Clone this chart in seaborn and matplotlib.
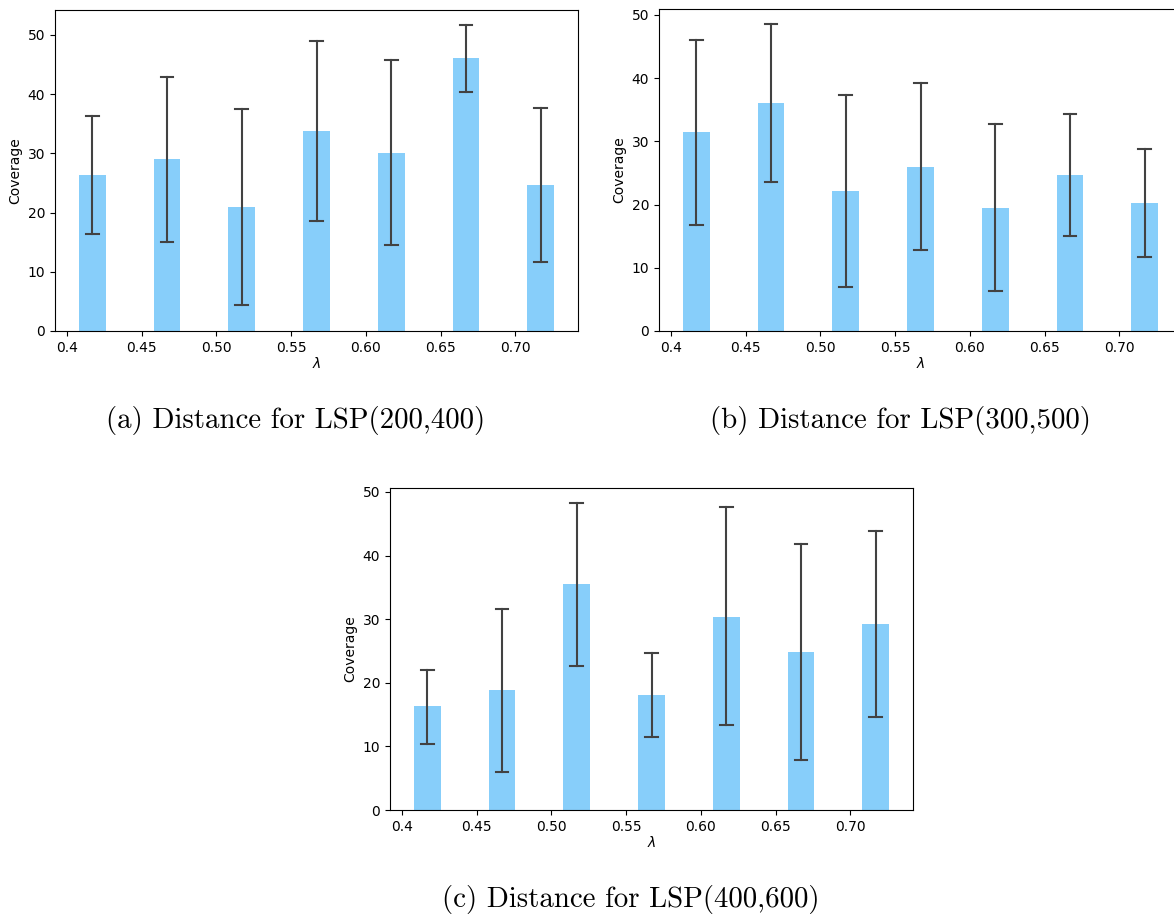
import numpy as np
import pandas as pd
import matplotlib
matplotlib.use("Agg")
import matplotlib.pyplot as plt
import seaborn as sns

# bar centres (lambda) and tick labels
lam = [0.417, 0.467, 0.517, 0.567, 0.617, 0.667, 0.717]
tick_pos = [0.40, 0.45, 0.50, 0.55, 0.60, 0.65, 0.70]
tick_labels = ["0.4", "0.45", "0.50", "0.55", "0.60", "0.65", "0.70"]

# panel (a) LSP(200,400)
a_mean = [26.3, 29.0, 20.9, 33.7, 30.0, 46.0, 24.6]
a_low = [16.4, 15.1, 4.4, 18.6, 14.5, 40.3, 11.6]
a_high = [36.3, 42.9, 37.4, 48.9, 45.7, 51.6, 37.7]

# panel (b) LSP(300,500)
b_mean = [31.4, 36.0, 22.2, 26.0, 19.5, 24.7, 20.3]
b_low = [16.7, 23.6, 6.9, 12.8, 6.3, 15.1, 11.7]
b_high = [46.0, 48.5, 37.4, 39.3, 32.7, 34.3, 28.8]

# panel (c) LSP(400,600)
c_mean = [16.3, 18.8, 35.5, 18.0, 30.4, 24.8, 29.3]
c_low = [10.4, 5.9, 22.6, 11.4, 13.3, 7.8, 14.6]
c_high = [22.0, 31.6, 48.2, 24.6, 47.7, 41.8, 43.9]

captions = ["(a) Distance for LSP(200,400)",
            "(b) Distance for LSP(300,500)",
            "(c) Distance for LSP(400,600)"]

W, H = 1174, 916
fig = plt.figure(figsize=(W / 100, H / 100), dpi=100)


def axes_px(l, t, r, b):
    return fig.add_axes([l / W, 1 - b / H, (r - l) / W, (b - t) / H])


def panel(ax, mean, low, high):
    rows = []
    for x, m, lo, hi in zip(lam, mean, low, high):
        for v in (lo, m, hi):
            rows.append({"lam": x, "val": v})
    df = pd.DataFrame(rows)
    sns.barplot(data=df, x="lam", y="val", native_scale=True,
                estimator="median", errorbar=lambda v: (v.min(), v.max()),
                width=0.36, color="#87CEFA", saturation=1,
                capsize=0.17, err_kws={"color": ".26", "linewidth": 1.5},
                ax=ax)
    ax.set_xticks(tick_pos)
    ax.set_xticklabels(tick_labels)
    ax.set_xlabel(r"$\lambda$", fontsize=10, labelpad=1)
    ax.set_ylabel("Coverage", fontsize=10)
    ax.tick_params(labelsize=10)


ax1 = axes_px(55, 10, 578, 331)
ax2 = axes_px(659, 9, 1182, 331)
ax3 = axes_px(390, 488, 913, 810)
panel(ax1, a_mean, a_low, a_high)
panel(ax2, b_mean, b_low, b_high)
panel(ax3, c_mean, c_low, c_high)

cap_kw = dict(fontsize=20.8, family="cmr10", ha="center", va="center")
fig.text(296 / W, 1 - 420 / H, captions[0], **cap_kw)
fig.text(900 / W, 1 - 420 / H, captions[1], **cap_kw)
fig.text(631 / W, 1 - 899 / H, captions[2], **cap_kw)

fig.savefig("out.png", dpi=100, facecolor="white")
